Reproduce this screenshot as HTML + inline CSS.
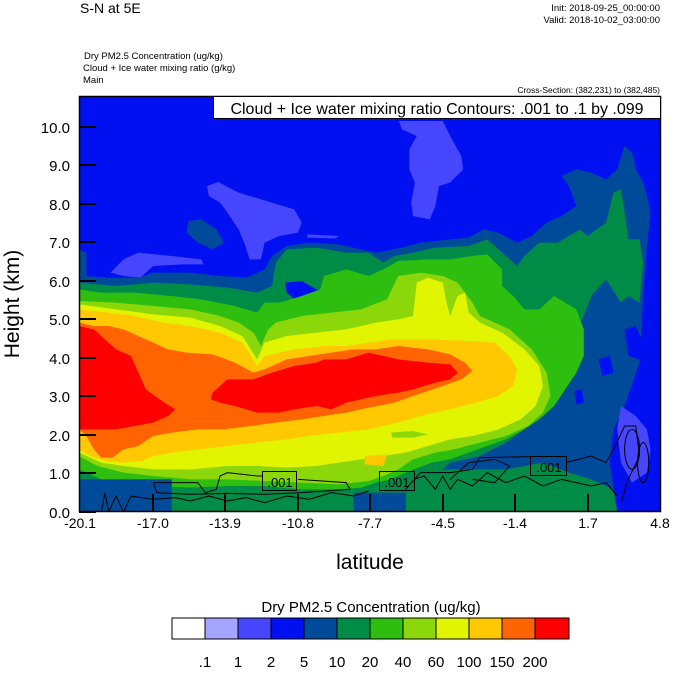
<!DOCTYPE html>
<html><head><meta charset="utf-8"><style>
html,body{margin:0;padding:0;background:#fff;}
body{width:674px;height:668px;overflow:hidden;position:relative;font-family:"Liberation Sans",sans-serif;}
</style></head><body>
<svg width="674" height="668" viewBox="0 0 674 668" xmlns="http://www.w3.org/2000/svg" font-family="Liberation Sans, sans-serif">
<rect width="674" height="668" fill="#fff"/>
<text x="80" y="13" font-size="14">S-N at 5E</text>
<text x="660" y="11" font-size="9.5" text-anchor="end">Init: 2018-09-25_00:00:00</text>
<text x="660" y="23" font-size="9.5" text-anchor="end">Valid: 2018-10-02_03:00:00</text>
<text x="84" y="59" font-size="9.5">Dry PM2.5 Concentration   (ug/kg)</text>
<text x="83" y="71" font-size="9.5">Cloud + Ice water mixing ratio   (g/kg)</text>
<text x="83" y="83" font-size="9.5">Main</text>
<text x="660" y="93" font-size="8.5" text-anchor="end">Cross-Section: (382,231) to (382,485)</text>

<svg x="79" y="96" width="582" height="416" viewBox="0 0 1568 1248" preserveAspectRatio="none">
<rect width="1568" height="1248" fill="#0010f0"/>
<g fill="#4646ff">
<polygon points="862,75 980,75 1000,120 1030,180 1035,220 1000,260 970,270 960,330 945,370 900,360 895,320 905,260 890,220 890,160 910,120 870,100"/>
<polygon points="345,270 375,258 430,290 520,320 580,340 600,380 590,410 540,420 500,440 490,490 460,490 445,440 430,400 400,350 380,320 350,300"/>
<polygon points="85,530 120,490 160,470 250,480 330,490 335,505 280,505 200,510 165,545 120,540"/>
<polygon points="615,415 700,420 690,427 615,425"/>
</g>
<g fill="#004a9a">
<polygon points="0,460 20,470 20,540 80,545 160,545 200,530 300,530 380,540 450,545 500,520 520,480 560,450 620,440 700,445 760,460 800,470 870,455 920,440 1000,430 1050,425 1090,400 1130,410 1180,440 1220,420 1260,380 1300,360 1340,330 1320,270 1300,240 1340,220 1380,230 1420,250 1450,220 1470,150 1490,170 1500,220 1520,260 1530,300 1540,350 1530,450 1520,600 1510,800 1470,930 1440,1000 1430,1100 1450,1248 0,1248"/>
<polygon points="295,375 330,370 370,400 390,440 360,460 320,440 290,410"/>
</g>
<g fill="#0010f0">
<polygon points="1470,700 1500,690 1520,740 1510,790 1480,780"/>
<polygon points="1400,790 1430,780 1440,830 1410,840"/>
<polygon points="1335,885 1355,880 1360,920 1340,925"/>
</g>
<polygon fill="#4646ff" points="1460,930 1500,960 1530,1000 1540,1060 1530,1130 1490,1160 1460,1100 1450,1000"/>
<polygon fill="#008c46" points="0,560 100,570 200,560 300,565 400,575 480,590 520,570 530,500 560,460 640,455 720,470 780,470 820,500 850,480 900,470 960,455 1050,450 1100,430 1140,470 1180,510 1200,480 1240,440 1290,440 1320,420 1350,400 1370,420 1420,380 1440,290 1460,280 1470,350 1480,430 1510,430 1520,500 1510,620 1480,600 1460,620 1420,550 1380,600 1360,660 1340,700 1330,780 1300,860 1280,920 1250,960 1200,1000 1150,1040 1080,1080 1000,1100 980,1120 1150,1120 1250,1100 1320,1130 1380,1150 1440,1180 1450,1248 0,1248"/>
<polygon fill="#0010f0" points="555,560 600,555 640,580 700,610 640,620 580,610 560,590"/>
<polygon fill="#2dbe10" points="0,580 60,590 150,590 250,600 330,610 420,630 480,650 500,620 540,620 600,600 650,580 660,540 720,520 780,540 820,520 860,495 940,490 1000,490 1060,480 1100,475 1140,520 1140,570 1170,600 1200,640 1240,640 1280,600 1340,640 1360,700 1360,780 1340,830 1310,880 1280,930 1240,970 1200,1000 1150,1030 1100,1050 1050,1070 1000,1090 950,1100 880,1130 840,1150 800,1160 760,1175 700,1180 600,1180 500,1170 400,1170 300,1175 200,1170 120,1160 60,1150 20,1130 0,1120"/>
<polygon fill="#8cd70a" points="0,615 100,620 200,630 300,640 380,660 430,680 470,710 490,750 510,700 530,680 600,660 680,650 760,640 830,610 860,540 920,530 980,540 1020,560 1060,620 1080,660 1120,680 1160,700 1220,760 1260,830 1270,900 1250,950 1210,990 1150,1020 1080,1040 1010,1060 960,1070 900,1090 860,1120 820,1140 780,1155 700,1165 600,1160 500,1155 400,1150 300,1150 200,1140 120,1130 50,1110 0,1080"/>
<polygon fill="#e1f500" points="0,625 100,640 200,655 300,665 380,690 440,720 480,790 500,740 560,720 640,710 720,700 800,680 860,670 900,660 910,560 940,545 980,560 990,620 1000,660 1020,600 1040,590 1050,650 1080,680 1140,710 1200,760 1240,810 1250,870 1230,930 1190,970 1130,1000 1060,1020 1000,1030 940,1050 880,1070 820,1080 760,1090 700,1100 640,1110 560,1115 480,1110 400,1110 300,1120 200,1120 120,1110 60,1100 0,1070"/>
<polygon fill="#8cd70a" points="840,1010 900,1005 940,1015 900,1025 845,1025"/>
<polygon fill="#ffc800" points="0,640 80,650 150,660 230,680 300,690 380,710 440,740 470,790 480,810 500,780 580,760 660,750 720,750 780,740 840,730 940,730 1050,735 1120,740 1160,780 1180,820 1170,870 1130,900 1070,920 1000,940 920,960 860,980 780,1000 700,1010 620,1020 560,1030 480,1040 400,1050 320,1060 250,1070 200,1080 170,1095 120,1100 70,1095 30,1080 0,1060"/>
<polygon fill="#ffc800" points="770,1080 830,1075 820,1110 770,1105"/>
<polygon fill="#ff6400" points="0,680 40,690 80,690 120,700 160,720 200,740 240,760 290,770 360,775 420,800 470,830 500,820 560,790 620,780 680,770 740,760 800,760 860,750 940,760 1000,775 1040,800 1060,825 1030,850 980,870 900,900 850,920 780,935 720,950 660,960 600,970 530,980 460,990 390,1000 320,1000 250,1010 200,1020 160,1050 120,1060 90,1085 60,1085 40,1060 20,1020 0,1000"/>
<polygon fill="#ff0000" points="0,690 40,700 100,760 140,780 160,830 180,880 230,920 260,940 240,960 200,980 150,990 100,1000 40,1000 0,1000"/>
<polygon fill="#ff0000" points="360,890 400,850 470,850 520,830 580,810 640,800 660,790 720,790 780,770 860,790 940,800 1000,805 1020,830 1000,850 960,860 900,880 860,890 800,900 720,920 680,940 640,930 580,940 540,950 480,950 420,930 380,920 355,910"/>
<polygon fill="#004a9a" points="0,1150 250,1150 250,1248 0,1248"/>
<polygon fill="#004a9a" points="740,1190 880,1190 880,1248 740,1248"/>
<g fill="none" stroke="#000" stroke-width="1" vector-effect="non-scaling-stroke">
<polyline vector-effect="non-scaling-stroke" points="200,1160 320,1160 340,1190 370,1180 380,1140 400,1130 480,1140 495,1140"/>
<polyline vector-effect="non-scaling-stroke" points="590,1150 720,1160 730,1180 600,1190 500,1195 400,1192 300,1195 210,1190 200,1160"/>
<polyline vector-effect="non-scaling-stroke" points="60,1248 70,1190 80,1248 100,1200 120,1248 140,1200 200,1210 260,1205 300,1215 350,1200 400,1215 450,1205 500,1220 560,1200 620,1210 680,1190 740,1200 780,1185"/>
<polyline vector-effect="non-scaling-stroke" points="903,1150 930,1140 960,1180 980,1140 1000,1180 1020,1150 1060,1170 1100,1130 1150,1160 1200,1140 1250,1170 1300,1150 1340,1160 1380,1170 1420,1160 1450,1200"/>
<polyline vector-effect="non-scaling-stroke" points="880,1180 920,1130 1000,1130 1060,1120 1080,1085 1215,1082"/>
<polyline vector-effect="non-scaling-stroke" points="1312,1100 1380,1080 1420,1100 1440,1060 1470,990 1500,990 1510,1080 1480,1150 1460,1220"/>
<polyline vector-effect="non-scaling-stroke" points="1000,1150 1050,1100 1120,1090 1160,1110 1120,1160 1060,1150"/>
<ellipse vector-effect="non-scaling-stroke" cx="1490" cy="1060" rx="20" ry="60"/>
<ellipse vector-effect="non-scaling-stroke" cx="1520" cy="1100" rx="15" ry="60"/>
</g>
</svg>
<rect x="79.5" y="96.5" width="581" height="415" fill="none" stroke="#000" stroke-width="1.5"/>
<g stroke="#000" stroke-width="2">
<line x1="79" y1="512" x2="96" y2="512"/><line x1="79" y1="473" x2="96" y2="473"/><line x1="79" y1="435" x2="96" y2="435"/><line x1="79" y1="396" x2="96" y2="396"/><line x1="79" y1="358" x2="96" y2="358"/><line x1="79" y1="319" x2="96" y2="319"/><line x1="79" y1="281" x2="96" y2="281"/><line x1="79" y1="242" x2="96" y2="242"/><line x1="79" y1="204" x2="96" y2="204"/><line x1="79" y1="165" x2="96" y2="165"/><line x1="79" y1="127" x2="96" y2="127"/>
<line x1="153" y1="512" x2="153" y2="494"/><line x1="225" y1="512" x2="225" y2="494"/><line x1="298" y1="512" x2="298" y2="494"/><line x1="370" y1="512" x2="370" y2="494"/><line x1="443" y1="512" x2="443" y2="494"/><line x1="515" y1="512" x2="515" y2="494"/><line x1="588" y1="512" x2="588" y2="494"/>
</g>
<rect x="213.5" y="96.5" width="447" height="22" fill="#fff" stroke="#000"/>
<text x="437" y="114" font-size="16" text-anchor="middle">Cloud + Ice water mixing ratio Contours: .001 to .1 by .099</text>
<g font-size="13" text-anchor="middle">
<rect x="262.5" y="471.5" width="34" height="19" fill="none" stroke="#000"/><text x="280" y="487">.001</text>
<rect x="379.5" y="471.5" width="35" height="19" fill="none" stroke="#000"/><text x="397" y="487">.001</text>
<rect x="530.5" y="456.5" width="36" height="19" fill="none" stroke="#000"/><text x="549" y="472">.001</text>
</g>
<g font-size="15" text-anchor="end">
<text x="70" y="518">0.0</text><text x="70" y="479">1.0</text><text x="70" y="441">2.0</text><text x="70" y="402">3.0</text><text x="70" y="364">4.0</text><text x="70" y="325">5.0</text><text x="70" y="287">6.0</text><text x="70" y="248">7.0</text><text x="70" y="210">8.0</text><text x="70" y="171">9.0</text><text x="70" y="133">10.0</text>
</g>
<g font-size="14" text-anchor="middle">
<text x="80" y="528">-20.1</text><text x="153" y="528">-17.0</text><text x="225" y="528">-13.9</text><text x="298" y="528">-10.8</text><text x="370" y="528">-7.7</text><text x="443" y="528">-4.5</text><text x="515" y="528">-1.4</text><text x="588" y="528">1.7</text><text x="660" y="528">4.8</text>
</g>
<text x="370" y="569" font-size="21" text-anchor="middle">latitude</text>
<text transform="translate(19,304) rotate(-90)" font-size="21" text-anchor="middle">Height (km)</text>
<text x="371" y="612" font-size="15" text-anchor="middle">Dry PM2.5 Concentration  (ug/kg)</text>
<g stroke="#000" stroke-width="1">
<rect x="172" y="618" width="33" height="21" fill="#fff"/>
<rect x="205" y="618" width="33" height="21" fill="#a5a5ff"/>
<rect x="238" y="618" width="33" height="21" fill="#4646ff"/>
<rect x="271" y="618" width="33" height="21" fill="#0010f0"/>
<rect x="304" y="618" width="33" height="21" fill="#004a9a"/>
<rect x="337" y="618" width="33" height="21" fill="#008c46"/>
<rect x="370" y="618" width="33" height="21" fill="#2dbe10"/>
<rect x="403" y="618" width="33" height="21" fill="#8cd70a"/>
<rect x="436" y="618" width="33" height="21" fill="#e1f500"/>
<rect x="469" y="618" width="33" height="21" fill="#ffc800"/>
<rect x="502" y="618" width="33" height="21" fill="#ff6400"/>
<rect x="535" y="618" width="34" height="21" fill="#ff0000"/>
</g>
<g font-size="15" text-anchor="middle">
<text x="205" y="667">.1</text><text x="238" y="667">1</text><text x="271" y="667">2</text><text x="304" y="667">5</text><text x="337" y="667">10</text><text x="370" y="667">20</text><text x="403" y="667">40</text><text x="436" y="667">60</text><text x="469" y="667">100</text><text x="502" y="667">150</text><text x="535" y="667">200</text>
</g>
</svg>
</body></html>
